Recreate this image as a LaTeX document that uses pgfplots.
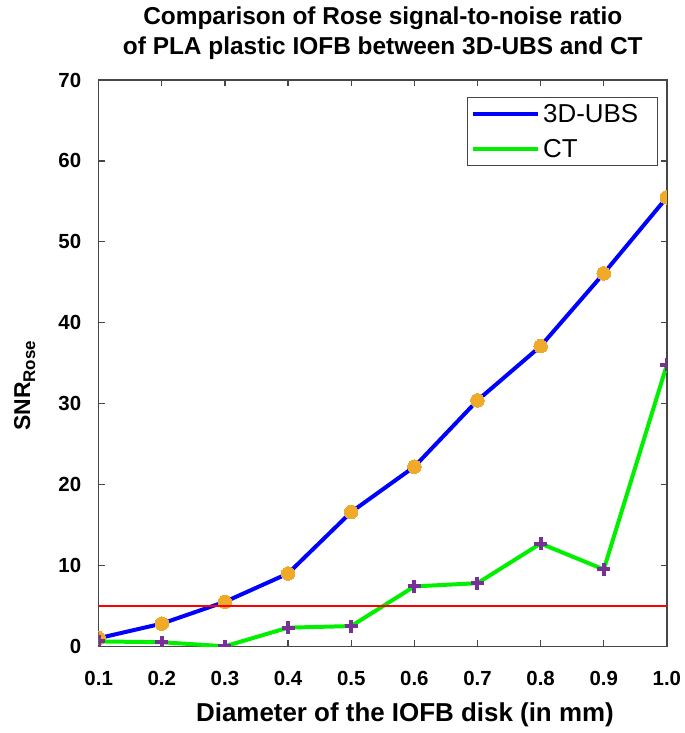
\documentclass[border=0pt]{standalone}
\usepackage{pgfplots}
\pgfplotsset{compat=1.18}
\usepackage{fontspec}
\setmainfont{Liberation Sans}
\definecolor{ubsblue}{RGB}{0,0,255}
\definecolor{ctgreen}{RGB}{0,240,0}
\definecolor{mkorange}{RGB}{238,170,40}
\definecolor{mkpurple}{RGB}{118,48,150}
\definecolor{axgray}{RGB}{70,70,70}
\begin{document}
\begin{tikzpicture}
\begin{axis}[
  scale only axis,
  width=570pt, height=568pt,
  xmin=0.1, xmax=1.0, ymin=0, ymax=70,
  xtick={0.1,0.2,...,1.0},
  xticklabels={0.1,0.2,0.3,0.4,0.5,0.6,0.7,0.8,0.9,1.0},
  ytick={0,10,...,70},
  tick align=inside,
  major tick length=6pt,
  axis line style={axgray, line width=1.3pt},
  every tick/.style={axgray, line width=1.3pt},
  tick label style={font=\fontsize{20.5}{22}\selectfont\bfseries},
  /pgf/number format/assume math mode=true,
  xticklabel style={yshift=-22pt},
  yticklabel style={xshift=-14pt},
  xlabel={\fontsize{26}{28}\selectfont\bfseries Diameter of the IOFB disk (in mm)},
  xlabel style={at={(axis description cs:0.539,0)}, anchor=center, yshift=-69pt},
  ylabel={\fontsize{23}{26}\selectfont\bfseries SNR\raisebox{-5pt}{\fontsize{17}{18}\selectfont Rose}},
  ylabel style={at={(axis description cs:-0.13,0.46)}, anchor=center},
  title={\fontsize{24.5}{30}\selectfont\bfseries\begin{tabular}{@{}c@{}}Comparison of Rose signal-to-noise ratio\\ of PLA plastic IOFB between 3D-UBS and CT\end{tabular}},
  title style={at={(axis description cs:0.5,1)}, anchor=center, yshift=41pt},
  legend style={at={(axis description cs:0.984,0.970)}, anchor=north east,
    font=\fontsize{26}{28}\selectfont,
    draw=axgray, line width=1.2pt, inner xsep=4pt, inner ysep=5pt, row sep=11pt,
    nodes={inner xsep=3pt, inner ysep=2pt}},
  legend cell align=left,
  legend image code/.code={\draw[#1, line width=4pt] (0pt,0pt) -- (65pt,0pt);},
  clip marker paths=true,
]
\addplot[ubsblue, line width=4pt, mark=*, mark size=6.8pt,
  mark options={draw=mkorange, fill=mkorange, line width=0pt}]
  coordinates {(0.1,1.0) (0.2,2.8) (0.3,5.5) (0.4,9.0) (0.5,16.6) (0.6,22.2) (0.7,30.4) (0.8,37.1) (0.9,46.1) (1.0,55.5)};
\addlegendentry{3D-UBS\kern12pt}
\addplot[ctgreen, line width=4pt, mark=+, mark size=6.5pt,
  mark options={draw=mkpurple, line width=4pt}]
  coordinates {(0.1,0.6) (0.2,0.5) (0.3,0.0) (0.4,2.3) (0.5,2.5) (0.6,7.4) (0.7,7.8) (0.8,12.7) (0.9,9.5) (1.0,34.8)};
\addlegendentry{CT}
\addplot[red, line width=1.8pt, forget plot] coordinates {(0.1,5) (1.0,5)};
\end{axis}
\path (current axis.south west) ++(-99pt,-87pt) rectangle ++(686pt,733pt);
\end{tikzpicture}
\end{document}
